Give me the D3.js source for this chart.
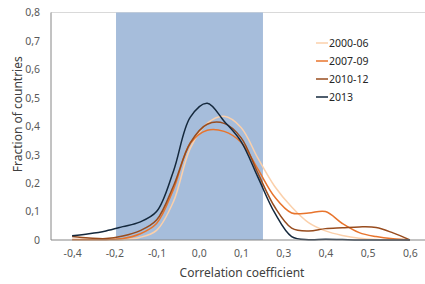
<!DOCTYPE html>
<html>
<head>
<meta charset="utf-8">
<script src="https://cdn.jsdelivr.net/npm/d3@7"></script>
<style>
  body { margin: 0; background: #fff; }
  svg text { font-family: "Segoe UI", "Noto Sans", sans-serif; }
</style>
</head>
<body>
<svg id="chart" width="425" height="284"></svg>
<script>
// correlation grid (step 0.05)
var xs = d3.range(21).map(function(i) { return Math.round((-0.4 + i * 0.05) * 100) / 100; });

var s2000 = [0, 0, 0, 0.001, 0.009, 0.034, 0.135, 0.323, 0.41, 0.435, 0.396, 0.288, 0.188, 0.116, 0.061, 0.032, 0.016, 0.006, 0.0015, 0, 0];
var s2007 = [0.002, 0.002, 0.002, 0.005, 0.021, 0.058, 0.178, 0.34, 0.386, 0.382, 0.344, 0.249, 0.151, 0.095, 0.095, 0.1, 0.058, 0.026, 0.012, 0.004, 0];
var s2010 = [0.012, 0.007, 0.005, 0.014, 0.032, 0.07, 0.19, 0.342, 0.407, 0.41, 0.36, 0.235, 0.116, 0.042, 0.032, 0.04, 0.043, 0.046, 0.044, 0.025, 0];
var s2013 = [0.015, 0.022, 0.032, 0.047, 0.063, 0.1, 0.242, 0.432, 0.481, 0.418, 0.347, 0.221, 0.095, 0.012, 0.001, 0.003, 0.0015, 0, 0, 0, 0];

var seriesNames = ["2000-06", "2007-09", "2010-12", "2013"];
var seriesColors = ["#fbd0ab", "#e8742c", "#984c1e", "#14283c"];

var xTickLabels = ["-0,4", "-0,2", "-0,1", "0,0", "0,1", "0,3", "0,4", "0,5", "0,6"];
var yTicks = [0, 0.1, 0.2, 0.3, 0.4, 0.5, 0.6, 0.7, 0.8];

var band = [-0.27, 0.165];

var margin = {top: 12.5, right: -6, bottom: 44, left: 51},
    width = 425 - margin.left - margin.right,
    height = 284 - margin.top - margin.bottom;

var svg = d3.select("#chart")
    .append("g")
    .attr("transform", "translate(" + margin.left + "," + margin.top + ")");

// excel category axis: 9 slots, labels in the middle of each
var slot = width / xTickLabels.length;
var x = d3.scaleLinear()
    .domain([-0.4, 0.6])
    .range([slot / 2, width - slot / 2]);

var y = d3.scaleLinear()
    .domain([0, 0.8])
    .range([height, 0]);

// top gridline
svg.append("line")
    .attr("x1", 0).attr("x2", width)
    .attr("y1", y(0.8)).attr("y2", y(0.8))
    .attr("stroke", "#d9d9d9");

svg.append("rect")
    .attr("x", x(band[0]))
    .attr("y", y(0.8))
    .attr("width", x(band[1]) - x(band[0]))
    .attr("height", y(0) - y(0.8))
    .attr("fill", "#a6bddb");

var tickVals = xTickLabels.map(function(d, i) { return -0.4 + i * (1.0 / (xTickLabels.length - 1)); });

var xAxis = d3.axisBottom(x)
    .tickValues(tickVals)
    .tickFormat(function(d, i) { return xTickLabels[i]; })
    .tickSize(0)
    .tickPadding(10);

var yAxis = d3.axisLeft(y)
    .tickValues(yTicks)
    .tickFormat(function(d) { return d === 0 ? "0" : d3.format(".1f")(d).replace(".", ","); })
    .tickSize(0)
    .tickPadding(11);

var gx = svg.append("g")
    .attr("class", "x axis")
    .attr("transform", "translate(0," + height + ")")
    .call(xAxis);
gx.select(".domain").remove();

var gy = svg.append("g")
    .attr("class", "y axis")
    .call(yAxis);
gy.select(".domain").remove();

svg.selectAll(".axis text")
    .style("font-size", "10.5px")
    .attr("fill", "#595959");

var line = d3.line()
    .x(function(d) { return x(d[0]); })
    .y(function(d) { return Math.min(y(d[1]), height); })
    .curve(d3.curveCatmullRom.alpha(0.5));

[s2000, s2007, s2010, s2013].forEach(function(vals, k) {
    svg.append("path")
        .datum(xs.map(function(v, i) { return [v, vals[i]]; }))
        .attr("fill", "none")
        .attr("stroke", seriesColors[k])
        .attr("stroke-width", 1.5)
        .attr("d", line);
});

// axis lines on top
svg.append("line")
    .attr("x1", 0).attr("x2", width)
    .attr("y1", height).attr("y2", height)
    .attr("stroke", "#868686");
svg.append("line")
    .attr("x1", 0).attr("x2", 0)
    .attr("y1", 0).attr("y2", height)
    .attr("stroke", "#868686");

// legend
var legend = svg.selectAll(".legend")
    .data(seriesNames)
    .enter()
    .append("g")
    .attr("class", "legend")
    .attr("transform", function(d, i) { return "translate(265," + (30.5 + i * 18) + ")"; });

legend.append("line")
    .attr("x1", 0).attr("x2", 12)
    .attr("stroke", function(d, i) { return seriesColors[i]; })
    .attr("stroke-width", 1.5);

legend.append("text")
    .attr("x", 13)
    .attr("dy", "0.35em")
    .style("font-size", "10.5px")
    .attr("fill", "#262626")
    .text(function(d) { return d; });

// axis titles
svg.append("text")
    .attr("transform", "rotate(-90)")
    .attr("x", -height / 2 + 12)
    .attr("y", -29)
    .style("text-anchor", "middle")
    .style("font-size", "12px")
    .attr("fill", "#404040")
    .text("Fraction of countries");

svg.append("text")
    .attr("x", 191)
    .attr("y", height + 37)
    .style("text-anchor", "middle")
    .style("font-size", "12px")
    .attr("fill", "#404040")
    .text("Correlation coefficient");
</script>
</body>
</html>
